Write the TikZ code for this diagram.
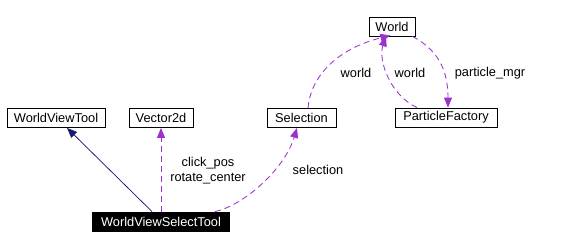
\documentclass[tikz,border=0pt]{standalone}
\usepackage{fontspec}
\setmainfont{Liberation Sans}
\usetikzlibrary{arrows.meta}
\definecolor{edgepurple}{HTML}{9A32CD}
\definecolor{edgenavy}{HTML}{191970}
\begin{document}
\begin{tikzpicture}[x=1pt,y=-1pt,
  box/.style={draw=black,line width=0.8pt,inner sep=0pt,minimum height=19pt,font=\fontsize{12.8}{14.5}\selectfont,anchor=center},
  lbl/.style={inner sep=0pt,font=\fontsize{12.8}{14.5}\selectfont,align=center},
  usage/.style={draw=edgepurple,line width=0.85pt,dash pattern=on 6pt off 4pt,-{Triangle[length=10pt,width=8pt]}},
  inherit/.style={draw=edgenavy,line width=0.75pt,-{Triangle[length=10pt,width=8pt]}}]
\useasboundingbox (0,0) rectangle (577,249);
\node[box,minimum width=98pt] (wvt) at (56,118) {WorldViewTool};
\node[box,minimum width=64pt] (vec) at (161,118) {Vector2d};
\node[box,minimum width=69pt] (sel) at (301.5,118) {Selection};
\node[box,minimum width=46pt] (world) at (392,26.5) {World};
\node[box,minimum width=102pt] (pf) at (446,117.5) {ParticleFactory};
\node[box,minimum width=137pt,fill=black,text=white] (wvst) at (161,221.5) {WorldViewSelectTool};
\draw[inherit] ([xshift=-9pt]wvst.north) -- ([xshift=11pt]wvt.south);
\draw[usage] (wvst.north) -- (vec.south);
\draw[usage] ([xshift=54pt]wvst.north) .. controls (245,205) and (285,168) .. ([xshift=-4.5pt]sel.south);
\draw[usage] ([xshift=6.5pt]sel.north) .. controls (310,80) and (333,50) .. ([xshift=-25pt,yshift=1pt]world.south east);
\draw[usage] ([xshift=-29pt]pf.north) .. controls (390,95) and (378,60) .. ([xshift=-6pt]world.south);
\draw[usage] ([xshift=-3pt]world.south east) .. controls (438,50) and (448,70) .. ([xshift=2pt]pf.north);
\node[lbl] (l1) at (208,170.5) {click\_pos\\rotate\_center};
\node[lbl] (l2) at (318,170) {selection};
\node[lbl] (l3) at (356,73) {world};
\node[lbl] (l4) at (410,73) {world};
\node[lbl] (l5) at (490,73) {particle\_mgr};
\end{tikzpicture}
\end{document}
